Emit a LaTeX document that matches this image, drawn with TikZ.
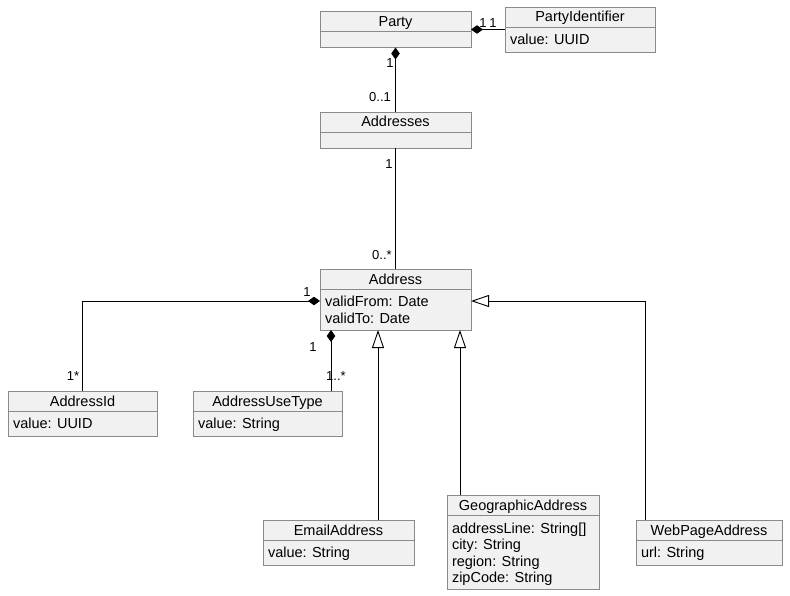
\documentclass[tikz,border=0pt]{standalone}
\usepackage{fontspec}
\setmainfont{Liberation Sans}
\usetikzlibrary{arrows.meta,calc}
\definecolor{boxfill}{HTML}{F1F1F1}
\definecolor{boxline}{HTML}{8A8A8A}
\begin{document}
\begin{tikzpicture}[x=1pt, y=1pt, yscale=-1, inner sep=0pt, outer sep=0pt,
  cls/.style={draw=boxline, fill=boxfill, line width=0.9pt, anchor=north west},
  divider/.style={draw=boxline, line width=0.9pt},
  clsname/.style={anchor=base, font=\fontsize{14.5}{17}\selectfont},
  attr/.style={anchor=base west, font=\fontsize{14.5}{17}\selectfont},
  mult/.style={anchor=base, font=\fontsize{13}{15}\selectfont},
  assoc/.style={draw=black, line width=0.9pt},
  comp/.style={assoc, -{Diamond[length=12pt,width=8.5pt]}},
  inherit/.style={assoc, -{Triangle[open,length=18pt,width=12pt,fill=white]}}]
\useasboundingbox (0,0) rectangle (790,596);

  % class boxes
  \node[cls, minimum width=151pt, minimum height=36pt] (party) at (320,11.5) {};
  \path[divider] (320,31.5) -- (471,31.5);
  \node[clsname] (party name) at (395.5,26.5) {Party};

  \node[cls, minimum width=150pt, minimum height=45pt] (partyid) at (505,7) {};
  \path[divider] (505,27) -- (655,27);
  \node[clsname] (partyid name) at (580,22) {PartyIdentifier};
  \node[attr] (partyid value) at (510,44.5) {value: UUID};

  \node[cls, minimum width=151pt, minimum height=36pt] (addresses) at (320,112) {};
  \path[divider] (320,132) -- (471,132);
  \node[clsname] (addresses name) at (395.5,127) {Addresses};

  \node[cls, minimum width=151pt, minimum height=61pt] (address) at (320,269) {};
  \path[divider] (320,289) -- (471,289);
  \node[clsname] (address name) at (395.5,284) {Address};
  \node[attr] (address from) at (325,306.5) {validFrom: Date};
  \node[attr] (address to) at (325,323) {validTo: Date};

  \node[cls, minimum width=149pt, minimum height=45pt] (addressid) at (8,391) {};
  \path[divider] (8,411) -- (157,411);
  \node[clsname] (addressid name) at (82.5,406) {AddressId};
  \node[attr] (addressid value) at (13,428.5) {value: UUID};

  \node[cls, minimum width=149pt, minimum height=45pt] (usetype) at (193,391) {};
  \path[divider] (193,411) -- (342,411);
  \node[clsname] (usetype name) at (267.5,406) {AddressUseType};
  \node[attr] (usetype value) at (198,428.5) {value: String};

  \node[cls, minimum width=151pt, minimum height=45pt] (email) at (263,520) {};
  \path[divider] (263,540) -- (414,540);
  \node[clsname] (email name) at (338.5,535) {EmailAddress};
  \node[attr] (email value) at (268,557.5) {value: String};

  \node[cls, minimum width=152pt, minimum height=94pt] (geo) at (447,495) {};
  \path[divider] (447,515) -- (599,515);
  \node[clsname] (geo name) at (523,510) {GeographicAddress};
  \node[attr] (geo line) at (452,533) {addressLine: String[]};
  \node[attr] (geo city) at (452,549.5) {city: String};
  \node[attr] (geo region) at (452,566) {region: String};
  \node[attr] (geo zip) at (452,582.5) {zipCode: String};

  \node[cls, minimum width=146pt, minimum height=45pt] (webpage) at (636,520) {};
  \path[divider] (636,540) -- (782,540);
  \node[clsname] (webpage name) at (709,535) {WebPageAddress};
  \node[attr] (webpage url) at (641,557.5) {url: String};

  % connectors
  \coordinate (usetype in) at ([xshift=-11pt]usetype.north east);
  \coordinate (email in) at ([xshift=39.5pt]email.north);
  \coordinate (geo in) at ([xshift=13pt]geo.north west);
  \coordinate (webpage in) at ([xshift=9pt]webpage.north west);

  \draw[comp] (partyid.west) -- (party.east);
  \draw[comp] (addresses.north) -- (party.south);
  \draw[assoc] (address.north) -- (addresses.south);
  \draw[comp] (addressid.north) |- ($(address.west)+(0,1.5)$);
  \draw[comp] (usetype in) -- (usetype in |- address.south);
  \draw[inherit] (email in) -- (email in |- address.south);
  \draw[inherit] (geo in) -- (geo in |- address.south);
  \draw[inherit] (webpage in) |- ($(address.east)+(0,1.5)$);

  % multiplicities
  \node[mult] (m party id1) at (483,27.5) {1};
  \node[mult] (m party id2) at (493,27.5) {1};
  \node[mult] (m party addr1) at (390,67.5) {1};
  \node[mult] (m party addr2) at (380,101.5) {0..1};
  \node[mult] (m addr addr1) at (389,168.5) {1};
  \node[mult] (m addr addr2) at (382,259.5) {0..*};
  \node[mult] (m id1) at (307,296.5) {1};
  \node[mult] (m id2) at (73,380.5) {1*};
  \node[mult] (m use1) at (313,351.5) {1};
  \node[mult] (m use2) at (336,380.5) {1..*};
\end{tikzpicture}
\end{document}
